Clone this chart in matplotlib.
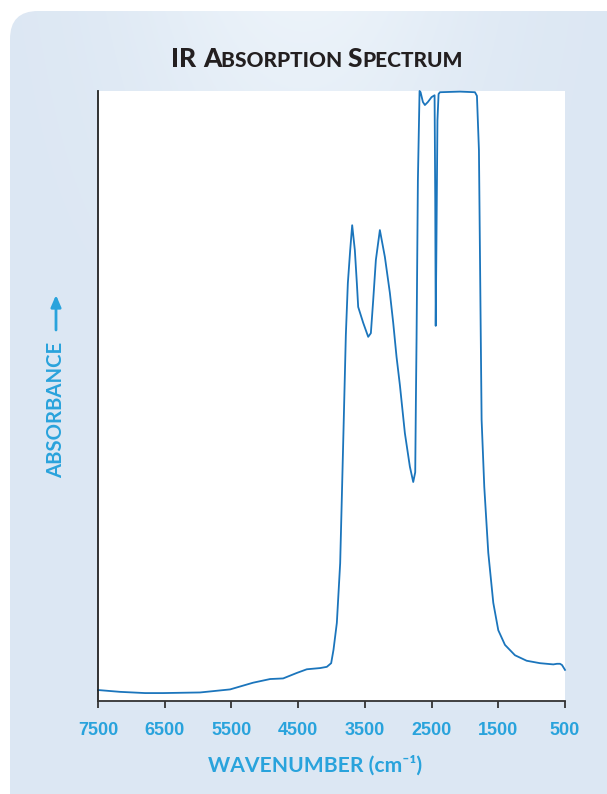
import numpy as np
import matplotlib.pyplot as plt
from matplotlib.patches import FancyBboxPatch

# IR absorption spectrum, wavenumber (cm-1) against relative absorbance
wavenumber = [7500, 7170, 6795, 6525, 5970, 5520, 5175, 4920, 4725, 4520,
              4370, 4170, 4070, 4005, 3970, 3920, 3870, 3845, 3820, 3785,
              3755, 3720, 3690, 3650, 3620, 3600, 3525, 3450, 3410, 3375,
              3335, 3275, 3200, 3125, 3075, 3025, 2975, 2900, 2825, 2775,
              2745, 2735, 2725, 2705, 2680, 2665, 2630, 2600, 2555, 2500,
              2455, 2445, 2438, 2428, 2412, 2395, 2375, 2075, 1850, 1820,
              1790, 1765, 1750, 1710, 1650, 1575, 1500, 1400, 1250, 1075,
              875, 675, 620, 575, 545, 500]
absorbance = [0.018, 0.015, 0.013, 0.013, 0.014, 0.019, 0.030, 0.036, 0.037, 0.046,
              0.052, 0.054, 0.056, 0.062, 0.084, 0.128, 0.226, 0.334, 0.444, 0.600,
              0.685, 0.739, 0.780, 0.739, 0.685, 0.646, 0.620, 0.597, 0.603, 0.657,
              0.723, 0.772, 0.728, 0.669, 0.620, 0.564, 0.518, 0.439, 0.384, 0.359,
              0.375, 0.493, 0.595, 0.854, 1.000, 0.998, 0.982, 0.977, 0.982, 0.990,
              0.993, 0.821, 0.615, 0.739, 0.952, 0.995, 0.998, 0.999, 0.998, 0.992,
              0.903, 0.625, 0.461, 0.351, 0.243, 0.161, 0.116, 0.092, 0.075, 0.066,
              0.062, 0.060, 0.061, 0.061, 0.059, 0.051]
xticks = [7500, 6500, 5500, 4500, 3500, 2500, 1500, 500]

W, H = 607, 794
blue = "#29a3dc"
line_blue = "#1b75bc"

fig = plt.figure(figsize=(W / 100, H / 100), dpi=100)
fig.patch.set_facecolor("white")

# light blue rounded panel with a soft highlight near the top centre
bg = fig.add_axes([0, 0, 1, 1], zorder=-5)
bg.set_xlim(0, W)
bg.set_ylim(0, H)
bg.axis("off")
gx = np.linspace(0, 1, 300)
gy = np.linspace(0, 1, 300)
GX, GY = np.meshgrid(gx, gy)
glow = np.exp(-((GX - 0.5) / 0.28) ** 2) * np.clip((GY - 0.55) / 0.45, 0, 1)
base = np.array([0.863, 0.906, 0.953])
light = np.array([0.925, 0.953, 0.980])
img = base + glow[..., None] * (light - base)
panel = FancyBboxPatch((10, -40), W + 40, H - 10 + 40 - 1,
                       boxstyle="round,pad=0,rounding_size=28",
                       transform=bg.transData, facecolor="none", edgecolor="none")
bg.add_patch(panel)
im = bg.imshow(img, extent=[0, W, 0, H], origin="lower", aspect="auto")
im.set_clip_path(panel)

# plot area
ax = fig.add_axes([98 / W, (H - 701) / H, (565 - 98) / W, (701 - 91) / H])
ax.set_facecolor("white")
ax.plot(wavenumber, absorbance, color=line_blue, lw=1.3, clip_on=False)
ax.set_xlim(7500, 500)
ax.set_ylim(0, 1)
ax.set_yticks([])
ax.set_xticks(xticks)
ax.set_xticklabels([str(t) for t in xticks])
ax.tick_params(axis="x", direction="out", length=5, width=1.3, color="#333333",
               pad=10, labelcolor=blue)
for lab in ax.get_xticklabels():
    lab.set_family(["Liberation Sans Narrow", "Liberation Sans"])
    lab.set_weight("bold")
    lab.set_size(13)
for side in ("top", "right"):
    ax.spines[side].set_visible(False)
ax.spines["left"].set_linewidth(1.3)
ax.spines["left"].set_color("#222222")
ax.spines["bottom"].set_linewidth(1.3)
ax.spines["bottom"].set_color("#333333")

# axis titles
fig.text(315.5 / W, (H - 765) / H, "WAVENUMBER (cm\u207b\u00b9)", color=blue,
         family=["Lato", "DejaVu Sans"], weight="bold", size=15.2,
         ha="center", va="center")
fig.text(56 / W, (H - 410) / H, "ABSORBANCE", color=blue, family="Lato",
         weight="bold", size=14.6, rotation=90, ha="center", va="center")
bg.annotate("", xy=(56, H - 295), xytext=(56, H - 330),
            arrowprops=dict(arrowstyle="-|>,head_length=0.7,head_width=0.3",
                            color=blue, lw=2, shrinkA=0, shrinkB=0))

# title in small caps
pieces = [("IR ", 19), ("A", 19), ("BSORPTION ", 15), ("S", 19), ("PECTRUM", 15)]
renderer = fig.canvas.get_renderer()
texts = []
for s, size in pieces:
    t = bg.text(0, H - 67, s, family="Lato", weight="black", size=size,
                color="#231f20", ha="left", va="baseline")
    texts.append(t)
widths = [t.get_window_extent(renderer).width for t in texts]
x = 317 - sum(widths) / 2
for t, w in zip(texts, widths):
    t.set_x(x)
    x += w

fig.savefig("out.png", dpi=100)
